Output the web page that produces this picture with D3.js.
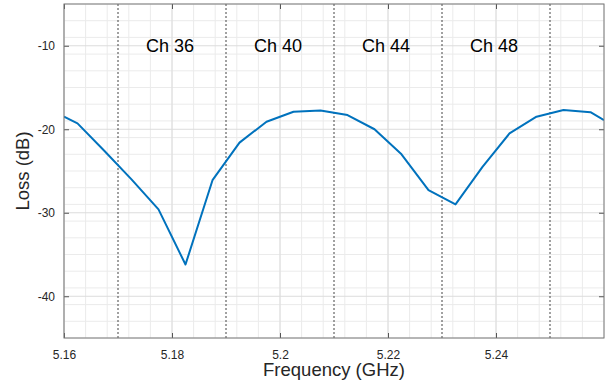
<!DOCTYPE html>
<html>
<head>
<meta charset="utf-8">
<script src="https://cdn.jsdelivr.net/npm/d3@7"></script>
<style>
  body { margin: 0; background: #fff; }
  svg { display: block; font-family: "Liberation Sans", Arial, sans-serif; }
</style>
</head>
<body>
<svg width="607" height="387"></svg>
<script>
// measured loss curve
const freqs = [5.16, 5.1625, 5.1675, 5.1725, 5.1775, 5.1825, 5.1875, 5.1925, 5.1975, 5.2025, 5.2075,
  5.2125, 5.2175, 5.2225, 5.2275, 5.2325, 5.2375, 5.2425, 5.2475, 5.2525, 5.2575, 5.26];
const loss = [-18.5, -19.3, -22.6, -26.0, -29.6, -36.2, -26.1, -21.6, -19.1, -17.9, -17.75,
  -18.3, -20.0, -23.0, -27.3, -29.0, -24.5, -20.5, -18.5, -17.7, -17.95, -18.9];

const channelEdges = [5.17, 5.19, 5.21, 5.23, 5.25];
const channelNames = ['Ch 36', 'Ch 40', 'Ch 44', 'Ch 48'];
const channelCenters = [5.18, 5.2, 5.22, 5.24];
const channelLabelLevel = -10;

const xTicks = [5.16, 5.18, 5.2, 5.22, 5.24];
const xTickLabels = ['5.16', '5.18', '5.2', '5.22', '5.24'];
const yTicks = [-40, -30, -20, -10];
const yTickLabels = ['-40', '-30', '-20', '-10'];

const svg = d3.select('svg');
const margin = {top: 4, right: 3, bottom: 49, left: 64};
const width = +svg.attr('width');
const height = +svg.attr('height');
const innerWidth = width - margin.left - margin.right;
const innerHeight = height - margin.top - margin.bottom;

const x = d3.scaleLinear().domain([5.16, 5.26]).range([0, innerWidth]);
const y = d3.scaleLinear().domain([-45, -5]).range([innerHeight, 0]);

const g = svg.append('g').attr('transform', `translate(${margin.left},${margin.top})`);

// minor grid
const xMinor = d3.range(0, 26).map(i => 5.16 + i * 0.004);
const yMinor = d3.range(0, 21).map(i => -45 + i * 2);
g.append('g').selectAll('line').data(xMinor).join('line')
  .attr('x1', d => x(d)).attr('x2', d => x(d))
  .attr('y1', 0).attr('y2', innerHeight)
  .attr('stroke', '#ebebeb').attr('stroke-width', 1);
g.append('g').selectAll('line').data(yMinor).join('line')
  .attr('x1', 0).attr('x2', innerWidth)
  .attr('y1', d => y(d)).attr('y2', d => y(d))
  .attr('stroke', '#ebebeb').attr('stroke-width', 1);

// major grid
g.append('g').selectAll('line').data(xTicks).join('line')
  .attr('x1', d => x(d)).attr('x2', d => x(d))
  .attr('y1', 0).attr('y2', innerHeight)
  .attr('stroke', '#dcdcdc').attr('stroke-width', 1);
g.append('g').selectAll('line').data(yTicks).join('line')
  .attr('x1', 0).attr('x2', innerWidth)
  .attr('y1', d => y(d)).attr('y2', d => y(d))
  .attr('stroke', '#dcdcdc').attr('stroke-width', 1);

// channel boundaries
g.append('g').selectAll('line').data(channelEdges).join('line')
  .attr('x1', d => x(d)).attr('x2', d => x(d))
  .attr('y1', 0).attr('y2', innerHeight)
  .attr('stroke', '#444').attr('stroke-width', 1)
  .attr('stroke-dasharray', '2,2');

// channel labels
g.append('g').selectAll('text').data(channelNames).join('text')
  .attr('x', (d, i) => x(channelCenters[i]) - 2)
  .attr('y', y(channelLabelLevel))
  .attr('dy', '0.36em')
  .attr('text-anchor', 'middle')
  .attr('font-size', 18)
  .attr('fill', '#000')
  .text(d => d);

// curve
g.append('clipPath').attr('id', 'clip')
  .append('rect').attr('width', innerWidth).attr('height', innerHeight);
const line = d3.line().x(d => x(d[0])).y(d => y(d[1]));
g.append('path')
  .datum(freqs.map((f, i) => [f, loss[i]]))
  .attr('clip-path', 'url(#clip)')
  .attr('d', line)
  .attr('fill', 'none')
  .attr('stroke', '#0072BD')
  .attr('stroke-width', 2)
  .attr('stroke-linejoin', 'round');

// axes (box with inward ticks)
const styleAxis = sel => {
  sel.select('.domain').remove();
  sel.selectAll('.tick line').attr('stroke', '#555');
  sel.selectAll('.tick text').attr('fill', '#262626').attr('font-size', 12)
    .attr('font-family', '"Liberation Sans", Arial, sans-serif');
};
const noLabels = sel => sel.selectAll('.tick text').remove();

g.append('g').attr('transform', `translate(0,${innerHeight})`)
  .call(d3.axisBottom(x).tickValues(xTicks).tickSize(-5).tickPadding(12)
    .tickFormat((d, i) => xTickLabels[i]))
  .call(styleAxis);
g.append('g')
  .call(d3.axisTop(x).tickValues(xTicks).tickSize(-5))
  .call(styleAxis).call(noLabels);
g.append('g')
  .call(d3.axisLeft(y).tickValues(yTicks).tickSize(-5).tickPadding(9)
    .tickFormat((d, i) => yTickLabels[i]))
  .call(styleAxis);
g.append('g').attr('transform', `translate(${innerWidth},0)`)
  .call(d3.axisRight(y).tickValues(yTicks).tickSize(-5))
  .call(styleAxis).call(noLabels);

g.append('rect')
  .attr('width', innerWidth).attr('height', innerHeight)
  .attr('fill', 'none').attr('stroke', '#777').attr('stroke-width', 1);

// axis titles
svg.append('text')
  .attr('x', margin.left + innerWidth / 2)
  .attr('y', 376)
  .attr('text-anchor', 'middle')
  .attr('font-size', 18.5)
  .attr('fill', '#262626')
  .text('Frequency (GHz)');

svg.append('text')
  .attr('transform', `translate(29,${margin.top + innerHeight / 2}) rotate(-90)`)
  .attr('text-anchor', 'middle')
  .attr('font-size', 18.5)
  .attr('fill', '#262626')
  .text('Loss (dB)');
</script>
</body>
</html>
